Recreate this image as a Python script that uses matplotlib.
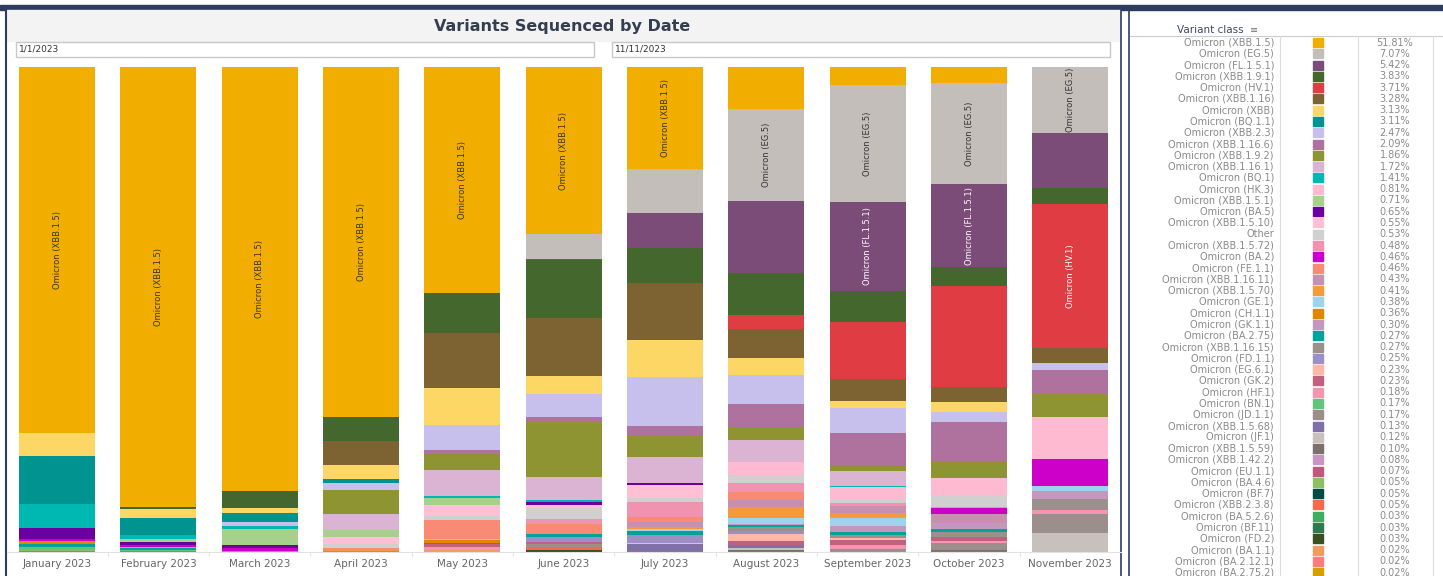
import matplotlib
matplotlib.use("Agg")
import matplotlib.pyplot as plt
from matplotlib.patches import Rectangle
from matplotlib import font_manager
import numpy as np

W, H = 1443, 576

months = ["January 2023", "February 2023", "March 2023", "April 2023", "May 2023",
          "June 2023", "July 2023", "August 2023", "September 2023", "October 2023",
          "November 2023"]

# legend order == stacking order (top of bar first)
lineages = ["XBB.1.5", "EG.5", "FL.1.5.1", "XBB.1.9.1", "HV.1", "XBB.1.16", "XBB", "BQ.1.1",
            "XBB.2.3", "XBB.1.16.6", "XBB.1.9.2", "XBB.1.16.1", "BQ.1", "HK.3", "XBB.1.5.1",
            "BA.5", "XBB.1.5.10", "Other", "XBB.1.5.72", "BA.2", "FE.1.1", "XBB.1.16.11",
            "XBB.1.5.70", "GE.1", "CH.1.1", "GK.1.1", "BA.2.75", "XBB.1.16.15", "FD.1.1",
            "EG.6.1", "GK.2", "HF.1", "BN.1", "JD.1.1", "XBB.1.5.68", "JF.1", "XBB.1.5.59",
            "XBB.1.42.2", "EU.1.1", "BA.4.6", "BF.7", "XBB.2.3.8", "BA.5.2.6", "BF.11",
            "FD.2", "BA.1.1", "BA.2.12.1", "BA.2.75.2"]

colors = ["#F2AE00", "#C4BEBB", "#7B4C78", "#44672D", "#E03C44", "#7E6332", "#FDD765", "#00938F",
          "#C7C0EC", "#AF719E", "#8E9432", "#DCB4D3", "#00B8B2", "#FDBAD0", "#A6D18B",
          "#6A00A0", "#FFC0D6", "#D0D0D0", "#F092B0", "#CC00C8", "#F98A75", "#C890B0",
          "#F59A3A", "#9ED3EE", "#E08600", "#C697BE", "#00A29C", "#9A918E", "#9C8FC8",
          "#FFB8A8", "#C2607F", "#F495B2", "#62C47C", "#9C8E8A", "#7E70A8", "#C8C0BC", "#7C706C",
          "#C896C2", "#C0577C", "#8CC060", "#004C44", "#F6694C", "#3CB060", "#2E7A4C",
          "#3A5020", "#F59A5E", "#FF7C7C", "#D4A000"]

overall = ["51.81%", "7.07%", "5.42%", "3.83%", "3.71%", "3.28%", "3.13%", "3.11%", "2.47%",
           "2.09%", "1.86%", "1.72%", "1.41%", "0.81%", "0.71%", "0.65%", "0.55%", "0.53%",
           "0.48%", "0.46%", "0.46%", "0.43%", "0.41%", "0.38%", "0.36%", "0.30%", "0.27%",
           "0.27%", "0.25%", "0.23%", "0.23%", "0.18%", "0.17%", "0.17%", "0.13%", "0.12%",
           "0.10%", "0.08%", "0.07%", "0.05%", "0.05%", "0.05%", "0.03%", "0.03%", "0.03%",
           "0.02%", "0.02%", "0.02%"]

# share of sequences per month (%)
jan23 = {"XBB.1.5": 75.5, "XBB": 4.7, "BQ.1.1": 10.0, "BQ.1": 4.9, "BA.5": 2.3, "BA.2": 0.4,
         "CH.1.1": 0.6, "BA.2.75": 0.6, "BN.1": 0.5, "BA.4.6": 0.3, "BA.5.2.6": 0.2}
feb23 = {"XBB.1.5": 90.8, "XBB.1.9.1": 0.3, "XBB": 1.9, "BQ.1.1": 3.4, "BQ.1": 1.0,
         "XBB.1.5.1": 0.6, "BA.5": 0.5, "BA.2": 0.5, "FE.1.1": 0.2, "BA.2.75": 0.3,
         "BN.1": 0.3, "BA.5.2.6": 0.2}
mar23 = {"XBB.1.5": 87.2, "XBB.1.9.1": 3.5, "XBB": 1.0, "BQ.1.1": 2.0, "XBB.2.3": 0.8,
         "BQ.1": 0.5, "XBB.1.5.1": 3.4, "BA.5": 0.6, "BA.2": 0.6, "CH.1.1": 0.2}
apr23 = {"XBB.1.5": 72.0, "XBB.1.9.1": 5.1, "XBB.1.16": 4.9, "XBB": 2.9, "BQ.1.1": 0.7,
         "XBB.2.3": 1.5, "XBB.1.9.2": 4.9, "XBB.1.16.1": 3.3, "XBB.1.5.1": 1.5,
         "XBB.1.5.10": 1.4, "Other": 0.8, "FE.1.1": 0.3, "XBB.1.5.70": 0.4, "CH.1.1": 0.2}
may23 = {"XBB.1.5": 46.5, "XBB.1.9.1": 8.3, "XBB.1.16": 11.4, "XBB": 7.6, "XBB.2.3": 5.2,
         "XBB.1.16.6": 0.7, "XBB.1.9.2": 3.4, "XBB.1.16.1": 5.3, "BQ.1": 0.4, "XBB.1.5.1": 1.6,
         "XBB.1.5.10": 2.2, "Other": 0.7, "FE.1.1": 4.0, "GE.1": 0.3, "CH.1.1": 0.5,
         "BA.2.75": 0.3, "GK.2": 0.6, "HF.1": 0.5, "BA.1.1": 0.5}
jun23 = {"XBB.1.5": 34.5, "EG.5": 5.0, "FL.1.5.1": 0.3, "XBB.1.9.1": 12.0, "XBB.1.16": 11.9,
         "XBB": 3.8, "XBB.2.3": 4.7, "XBB.1.16.6": 1.0, "XBB.1.9.2": 11.3, "XBB.1.16.1": 4.8,
         "BQ.1": 0.4, "BA.5": 0.7, "XBB.1.5.10": 0.5, "Other": 2.3, "XBB.1.5.72": 1.0,
         "FE.1.1": 2.1, "BA.2.75": 0.6, "FD.1.1": 1.0, "GK.2": 0.5, "JD.1.1": 0.6,
         "XBB.2.3.8": 0.5, "FD.2": 0.5}
jul23 = {"XBB.1.5": 21.1, "EG.5": 9.1, "FL.1.5.1": 7.2, "XBB.1.9.1": 7.3, "XBB.1.16": 11.6,
         "XBB": 7.8, "XBB.2.3": 10.1, "XBB.1.16.6": 2.1, "XBB.1.9.2": 4.3, "XBB.1.16.1": 5.4,
         "BA.5": 0.4, "XBB.1.5.10": 2.6, "Other": 0.9, "XBB.1.5.72": 3.0, "FE.1.1": 1.0,
         "XBB.1.16.11": 1.2, "XBB.1.5.70": 0.3, "GE.1": 0.4, "BA.2.75": 0.9, "FD.1.1": 1.6,
         "EG.6.1": 0.3, "XBB.1.5.68": 1.4, "EU.1.1": 0.2}
aug23 = {"XBB.1.5": 8.7, "EG.5": 18.8, "FL.1.5.1": 14.8, "XBB.1.9.1": 8.6, "HV.1": 2.8,
         "XBB.1.16": 6.0, "XBB": 3.4, "XBB.2.3": 6.0, "XBB.1.16.6": 4.7, "XBB.1.9.2": 2.8,
         "XBB.1.16.1": 4.4, "HK.3": 2.7, "Other": 1.6, "XBB.1.5.72": 1.9, "FE.1.1": 1.7,
         "XBB.1.16.11": 1.4, "XBB.1.5.70": 2.3, "GE.1": 1.1, "GK.1.1": 0.3, "BA.2.75": 0.4,
         "XBB.1.16.15": 0.7, "FD.1.1": 0.8, "EG.6.1": 1.4, "GK.2": 0.7, "XBB.1.5.68": 0.7,
         "JF.1": 0.4, "XBB.1.5.59": 0.4}
sep23 = {"XBB.1.5": 3.8, "EG.5": 24.1, "FL.1.5.1": 18.2, "XBB.1.9.1": 6.4, "HV.1": 11.8,
         "XBB.1.16": 4.6, "XBB": 1.4, "XBB.2.3": 5.2, "XBB.1.16.6": 6.8, "XBB.1.9.2": 1.1,
         "XBB.1.16.1": 2.9, "BQ.1": 0.4, "HK.3": 2.5, "Other": 0.6, "XBB.1.5.72": 0.7,
         "XBB.1.16.11": 1.4, "XBB.1.5.70": 1.0, "GE.1": 1.7, "GK.1.1": 1.3, "BA.2.75": 0.6,
         "XBB.1.16.15": 0.7, "EG.6.1": 0.3, "GK.2": 1.0, "HF.1": 0.8, "JD.1.1": 0.7}
oct23 = {"XBB.1.5": 3.3, "EG.5": 20.7, "FL.1.5.1": 16.9, "XBB.1.9.1": 3.8, "HV.1": 20.7,
         "XBB.1.16": 3.2, "XBB": 2.0, "XBB.2.3": 2.1, "XBB.1.16.6": 8.0, "XBB.1.9.2": 3.3,
         "HK.3": 3.6, "Other": 2.3, "XBB.1.5.72": 0.4, "BA.2": 1.2, "XBB.1.16.11": 1.7,
         "XBB.1.5.70": 0.2, "GK.1.1": 1.0, "BA.2.75": 0.7, "XBB.1.16.15": 1.0, "GK.2": 0.8,
         "HF.1": 0.5, "JD.1.1": 1.3, "XBB.1.5.59": 0.5}
nov23 = {"EG.5": 13.5, "FL.1.5.1": 11.5, "XBB.1.9.1": 3.2, "HV.1": 29.6, "XBB.1.16": 3.1,
         "XBB.2.3": 1.6, "XBB.1.16.6": 4.8, "XBB.1.9.2": 4.8, "HK.3": 8.7, "BA.2": 5.6,
         "GE.1": 1.0, "GK.1.1": 1.5, "XBB.1.16.15": 2.3, "HF.1": 0.9, "JD.1.1": 3.9, "JF.1": 3.9}

monthly = [jan23, feb23, mar23, apr23, may23, jun23, jul23, aug23, sep23, oct23, nov23]

# which segments carry a text label (month index, lineage, text colour)
bar_labels = [(0, "XBB.1.5", "#3a3320"), (1, "XBB.1.5", "#3a3320"), (2, "XBB.1.5", "#3a3320"),
              (3, "XBB.1.5", "#3a3320"), (4, "XBB.1.5", "#3a3320"), (5, "XBB.1.5", "#3a3320"),
              (6, "XBB.1.5", "#3a3320"), (7, "EG.5", "#333333"), (8, "EG.5", "#333333"),
              (9, "EG.5", "#333333"), (10, "EG.5", "#333333"), (8, "FL.1.5.1", "white"),
              (9, "FL.1.5.1", "white"), (10, "HV.1", "white")]


def full_name(l):
    return l if l == "Other" else "Omicron (%s)" % l


installed = {f.name for f in font_manager.fontManager.ttflist}
narrow = "Liberation Sans Narrow" if "Liberation Sans Narrow" in installed else "DejaVu Sans"
label_size = 7 if narrow != "DejaVu Sans" else 6

vals = np.array([[m.get(l, 0.0) for m in monthly] for l in lineages])
vals = vals / vals.sum(axis=0) * 100
tops = 100 - np.vstack([np.zeros(len(months)), np.cumsum(vals, axis=0)[:-1]])
bottoms = tops - vals

fig = plt.figure(figsize=(W / 100, H / 100), dpi=100)

# background / dashboard chrome, in pixel coordinates
bg = fig.add_axes([0, 0, 1, 1], zorder=0)
bg.set_xlim(0, W)
bg.set_ylim(H, 0)
bg.axis("off")
navy = "#2C3B5E"
bg.add_patch(Rectangle((0, 5), W, 5, color=navy))
bg.add_patch(Rectangle((7, 10), 1113, 31, color="#F3F3F3"))
bg.plot([6, 6], [10, H], color=navy, lw=1.5)
bg.plot([1120.5, 1120.5], [10, H], color=navy, lw=1.2)
bg.plot([1128.5, 1128.5], [10, H], color=navy, lw=1.2)
bg.text(562, 27, "Variants Sequenced by Date", ha="center", va="center",
        fontsize=11.5, fontweight="bold", color="#333E50")
bg.add_patch(Rectangle((16, 41.5), 578, 15, facecolor="white", edgecolor="#c8c8c8", lw=1))
bg.add_patch(Rectangle((612, 41.5), 498, 15, facecolor="white", edgecolor="#c8c8c8", lw=1))
bg.text(19, 49, "1/1/2023", ha="left", va="center", fontsize=6.5, color="#333333")
bg.text(615, 49, "11/11/2023", ha="left", va="center", fontsize=6.5, color="#333333")

# legend table on the right
bg.text(1177, 30, "Variant class", ha="left", va="center", fontsize=7.5,
        color="#3b4a5e")
bg.text(1250, 30, "\u2261", ha="left", va="center", fontsize=7, color="#777777")
bg.plot([1130, W], [36, 36], color="#cccccc", lw=0.8)
for xl in [1280, 1358, 1433]:
    bg.plot([xl, xl], [36, H], color="#dddddd", lw=0.8)
for i, l in enumerate(lineages):
    yr = 42.5 + 11.28 * i
    bg.text(1274, yr, full_name(l), ha="right", va="center", fontsize=7, color="#8a8a8a")
    bg.add_patch(Rectangle((1313, yr - 4.5), 10, 9, color=colors[i]))
    bg.text(1395, yr, overall[i], ha="center", va="center", fontsize=7, color="#8a8a8a")

# main stacked bars
ax = fig.add_axes([6.5 / W, 24 / H, (1121 - 6.5) / W, 485 / H], zorder=1)
ax.patch.set_alpha(0)
x = np.arange(len(months))
for i, l in enumerate(lineages):
    ax.bar(x, vals[i], bottom=bottoms[i], width=0.75, color=colors[i], lw=0)

for mi, l, tc in bar_labels:
    li = lineages.index(l)
    ax.text(mi, bottoms[li, mi] + vals[li, mi] / 2, full_name(l), rotation=90,
            ha="center", va="center", fontsize=label_size, color=tc, family=narrow)

ax.set_xlim(-0.5, 10.5)
ax.set_ylim(0, 100)
ax.set_yticks([])
ax.set_xticks(x)
ax.set_xticklabels(months, fontsize=7.5, color="#666666")
ax.set_xticks(x[:-1] + 0.5, minor=True)
ax.tick_params(axis="x", which="major", length=0, pad=5)
ax.tick_params(axis="x", which="minor", length=3, color="#dddddd")
for s in ["top", "left", "right"]:
    ax.spines[s].set_visible(False)
ax.spines["bottom"].set_color("#e2e2e2")

fig.savefig("out.png", dpi=100)
